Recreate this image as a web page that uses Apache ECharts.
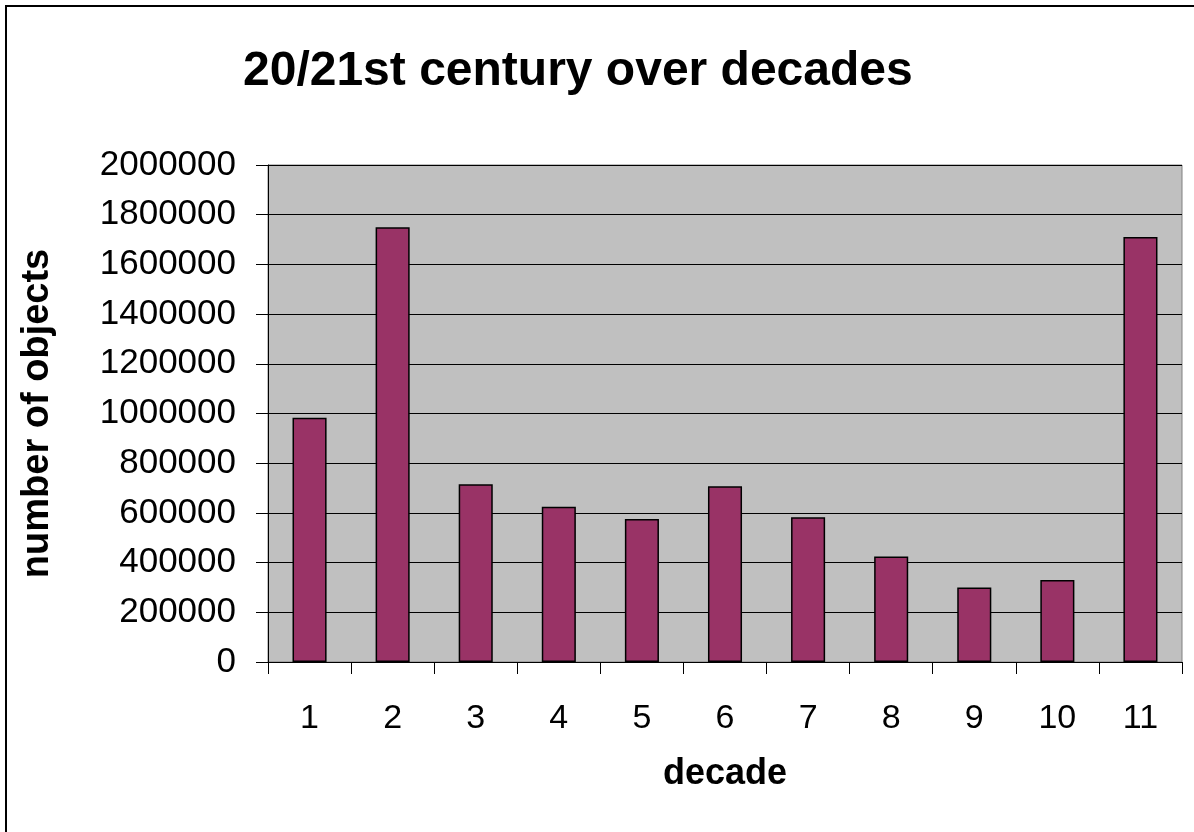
<!DOCTYPE html>
<html>
<head>
<meta charset="utf-8">
<title>20/21st century over decades</title>
<script src="https://cdn.jsdelivr.net/npm/echarts@6/dist/echarts.min.js"></script>
<style>
  html, body { margin: 0; padding: 0; background: #ffffff; }
  #chart { width: 1194px; height: 832px; }
</style>
</head>
<body>
<div id="chart"></div>
<script>
// Decades along the x axis and the number of objects counted in each
const decades = ['1', '2', '3', '4', '5', '6', '7', '8', '9', '10', '11'];
const objectCounts = [983000, 1750000, 715000, 625000, 575000, 707000, 582000, 425000, 300000, 330000, 1710000];

const FONT = '"Liberation Sans", Arial, sans-serif';

const chart = echarts.init(document.getElementById('chart'), null, { renderer: 'canvas' });

chart.setOption({
  backgroundColor: '#ffffff',
  animation: false,
  title: {
    text: '20/21st century over decades',
    left: 238,
    top: 43,
    textStyle: { fontFamily: FONT, fontSize: 48, fontWeight: 'bold', color: '#000000' }
  },
  graphic: [
    {
      // outer chart frame; its right and bottom edges run off the canvas
      type: 'rect',
      shape: { x: 6, y: 6, width: 1220, height: 860 },
      style: { fill: 'none', stroke: '#000000', lineWidth: 2 },
      silent: true,
      z: -1
    }
  ],
  grid: {
    left: 268,
    top: 165,
    right: 12,
    bottom: 170,
    show: true,
    backgroundColor: '#c0c0c0',
    borderColor: '#808080',
    borderWidth: 1
  },
  xAxis: {
    type: 'category',
    data: decades,
    name: 'decade',
    nameLocation: 'middle',
    nameGap: 94,
    nameTextStyle: { fontFamily: FONT, fontSize: 36, fontWeight: 'bold', color: '#000000' },
    axisLine: { lineStyle: { color: '#000000', width: 1 } },
    axisTick: { show: true, length: 12, alignWithLabel: false, lineStyle: { color: '#000000' } },
    axisLabel: { fontFamily: FONT, fontSize: 34, color: '#000000', margin: 40 },
    splitLine: { show: false }
  },
  yAxis: {
    type: 'value',
    min: 0,
    max: 2000000,
    interval: 200000,
    name: 'number of objects',
    nameLocation: 'middle',
    nameRotate: 90,
    nameGap: 211,
    nameTextStyle: { fontFamily: FONT, fontSize: 38, fontWeight: 'bold', color: '#000000' },
    axisLine: { show: true, lineStyle: { color: '#000000', width: 1 } },
    axisTick: { show: true, length: 12, lineStyle: { color: '#000000' } },
    axisLabel: {
      fontFamily: FONT,
      fontSize: 35,
      color: '#000000',
      margin: 32,
      formatter: function (v) { return String(v); }
    },
    splitLine: { show: true, lineStyle: { color: '#000000', width: 1 } }
  },
  series: [
    {
      type: 'bar',
      data: objectCounts,
      barCategoryGap: '59%',
      itemStyle: { color: '#993366', borderColor: '#000000', borderWidth: 1.5 }
    }
  ]
});
</script>
</body>
</html>
